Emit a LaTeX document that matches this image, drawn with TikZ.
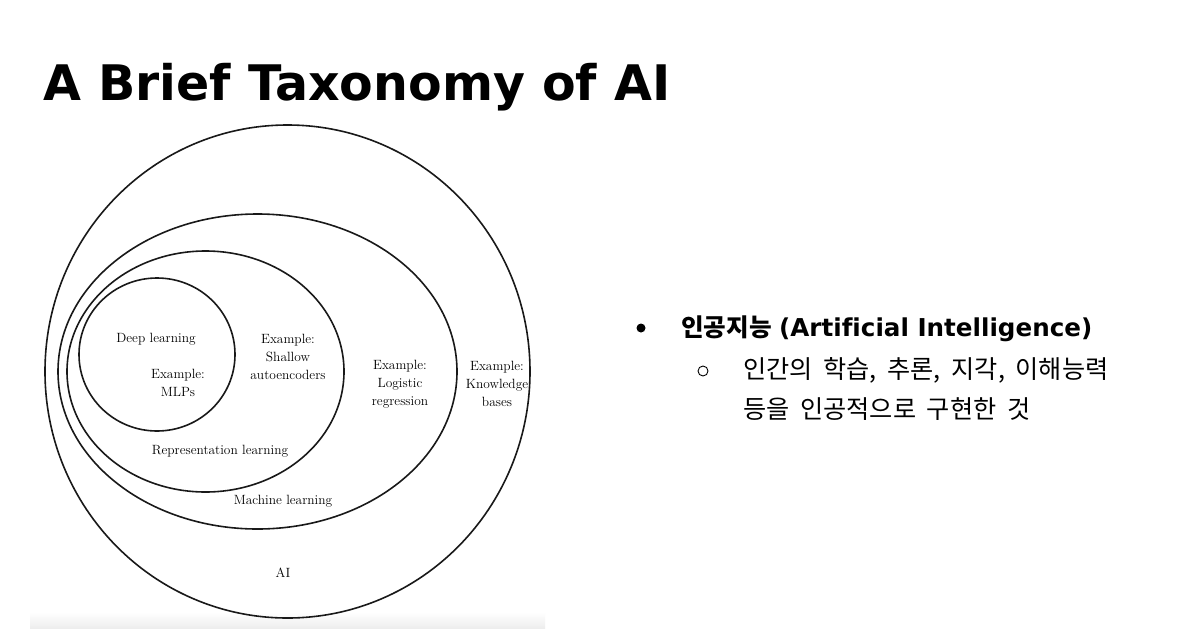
\documentclass[tikz,border=0pt]{standalone}
\usepackage{fontspec}
\usepackage{tikz}
\usetikzlibrary{positioning}
\newfontfamily\titlefont{DejaVu Sans}
\newfontfamily\latfont{DejaVu Sans}[Ligatures=NoCommon]
\newfontfamily\kofont{Noto Sans CJK KR}[WordSpace=1.9]

\begin{document}
\begin{tikzpicture}[x=1pt, y=-1pt,
    setline/.style={line width=1.6pt, black!90},
    setlabel/.style={align=center, inner sep=0pt, font=\fontsize{13.4}{18}\selectfont},
    kotext/.style={anchor=base west, inner sep=0pt, font=\fontsize{25.2}{28}\selectfont}]
    % Step 0: page frame
    \useasboundingbox (0,0) rectangle (1204,635);
    \fill[white] (0,0) rectangle (1204,635);
    % Title
    \node[anchor=base west, inner sep=0pt, font=\titlefont\bfseries\fontsize{49}{56}\selectfont] (title) at (43,100) {A Brief Taxonomy of AI};
    % Layer 1: faint strip under the scanned figure
    \shade[top color=white, bottom color=black!7] (30,612) rectangle (545,628);
    % Layer 2: nested sets (AI, ML, representation learning, deep learning)
    \draw[setline] (287.5,371.5) ellipse [x radius=242.5pt, y radius=246.5pt];
    \draw[setline] (257.5,371.5) ellipse [x radius=199.5pt, y radius=157.5pt];
    \draw[setline] (205.5,371.5) ellipse [x radius=138.5pt, y radius=120.5pt];
    \draw[setline] (157,354.5) ellipse [x radius=78pt, y radius=76.5pt];
    % Layer 3: labels
    \node[setlabel] (deep) at (156,339) {Deep learning};
    \node[setlabel] (mlp) at (178,383) {Example:\\MLPs};
    \node[setlabel] (shallow) at (288,357) {Example:\\Shallow\\autoencoders};
    \node[setlabel] (logreg) at (400,384) {Example:\\Logistic\\regression};
    \node[setlabel] (kb) at (497,384) {Example:\\Knowledge\\bases};
    \node[setlabel] (repr) at (220,451) {Representation learning};
    \node[setlabel] (ml) at (283,501) {Machine learning};
    \node[setlabel] (ai) at (283,573) {AI};
    % Layer 4: bullet list
    \fill (641,328) circle (4.5pt);
    \draw[line width=0.9pt] (703,371) circle (5pt);
    \node[kotext, font=\fontsize{24.6}{28}\selectfont] (ko1) at (681,336) {{\kofont\bfseries 인공지능} {\latfont\bfseries (Artificial Intelligence)}};
    \node[kotext] (ko2) at (743,378) {\kofont 인간의 학습, 추론, 지각, 이해능력};
    \node[kotext] (ko3) at (743,418) {\kofont 등을 인공적으로 구현한 것};
\end{tikzpicture}
\end{document}
